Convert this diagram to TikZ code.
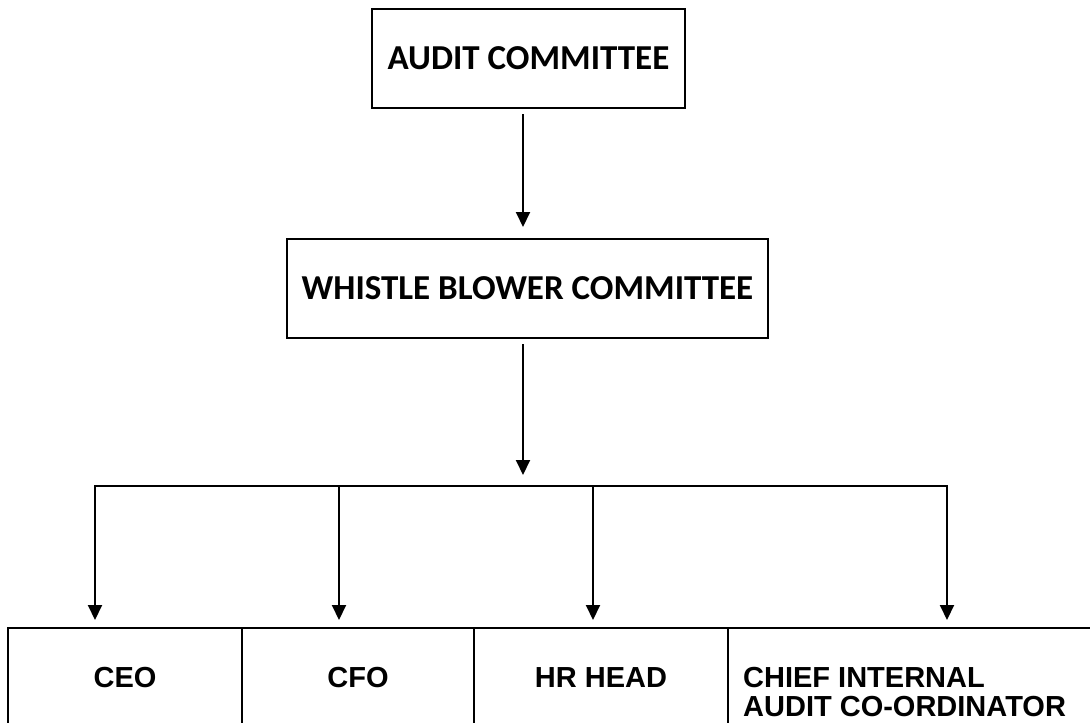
\documentclass[tikz,border=0pt]{standalone}
\usepackage{fontspec}
\setmainfont{Liberation Sans}
\newfontfamily\calfont{Carlito}
\usetikzlibrary{arrows.meta}
\begin{document}
\begin{tikzpicture}[x=1pt,y=-1pt,
 box/.style={draw, line width=2pt, inner sep=0pt},
 toptext/.style={font=\calfont\bfseries\fontsize{35}{40}\selectfont},
 bottext/.style={font=\bfseries\fontsize{29}{29}\selectfont},
 arr/.style={line width=2pt, -{Triangle[width=14pt,length=15pt]}},
 wire/.style={line width=2pt, line cap=rect}]
\useasboundingbox (0,0) rectangle (1090,723);
\clip (0,0) rectangle (1090,723);
\fill[white] (0,0) rectangle (1090,723);
\node[box, toptext, minimum width=313pt, minimum height=99pt] (audit) at (528.5,58.5) {AUDIT COMMITTEE};
\node[box, toptext, minimum width=481pt, minimum height=99pt] (wb) at (527.5,288.5) {WHISTLE BLOWER COMMITTEE};
\coordinate (j) at (523,486);
\draw[arr, shorten <=5pt, shorten >=11pt] ([xshift=-5.5pt]audit.south) -- ([xshift=-4.5pt]wb.north);
\draw[arr, shorten <=5pt, shorten >=11pt] ([xshift=-4.5pt]wb.south) -- (j);
\node[box, bottext, minimum width=234pt, minimum height=100pt] (ceo) at (125,678) {CEO};
\node[box, bottext, minimum width=232pt, minimum height=100pt] (cfo) at (358,678) {CFO};
\node[box, bottext, minimum width=254pt, minimum height=100pt] (hr) at (601,678) {HR HEAD};
\node[box, minimum width=382pt, minimum height=100pt] (ciac) at (919,678) {};
\node[bottext, anchor=west, align=left, inner sep=0pt] (ciact) at (743,692) {CHIEF INTERNAL\\AUDIT CO-ORDINATOR};
\coordinate (dceo) at (95,486);
\coordinate (dcfo) at (339,486);
\coordinate (dhr) at (593,486);
\coordinate (dciac) at (947,486);
\draw[wire] (dceo) -- (dciac);
\foreach \n in {ceo,cfo,hr,ciac}{
  \draw[arr, shorten >=7pt] (d\n) -- (d\n |- \n.north);
}
\end{tikzpicture}
\end{document}
